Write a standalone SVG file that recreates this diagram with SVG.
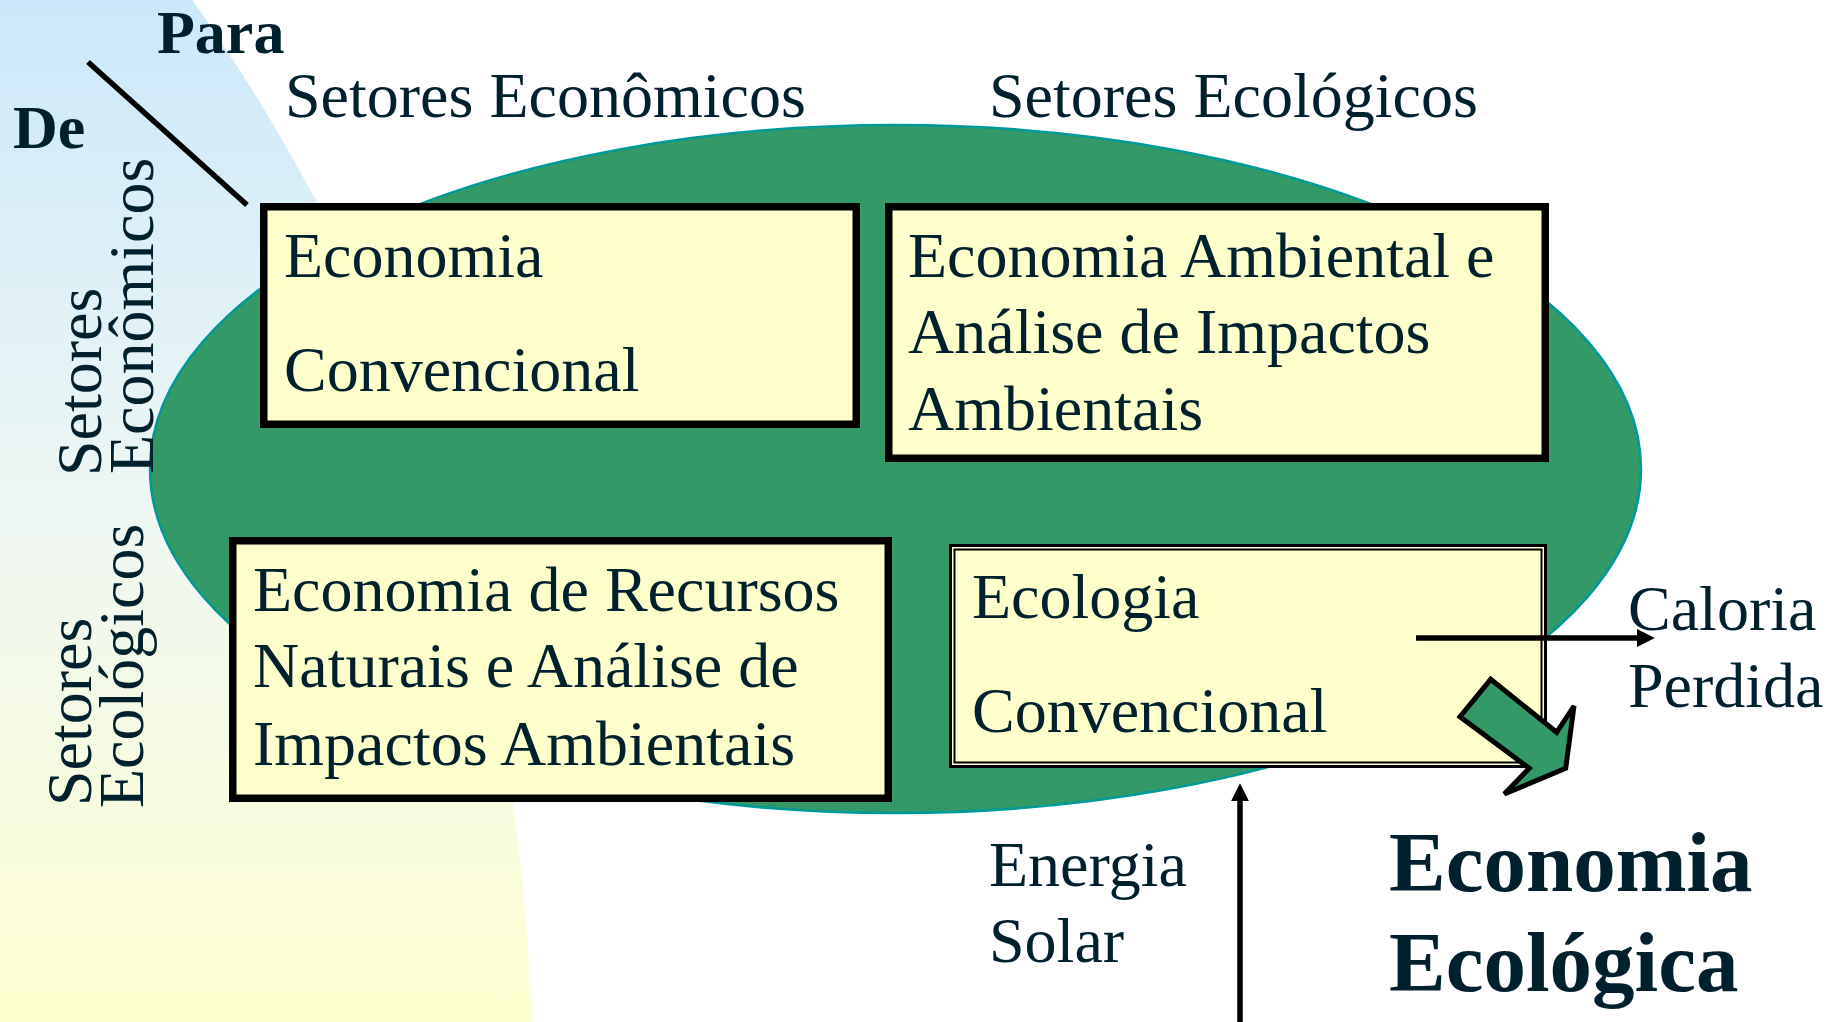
<svg xmlns="http://www.w3.org/2000/svg" width="1829" height="1022" viewBox="0 0 1829 1022">
  <defs>
    <linearGradient id="bgGrad" x1="0" y1="0" x2="0" y2="1022" gradientUnits="userSpaceOnUse">
      <stop offset="0" stop-color="#cbe9fc"/>
      <stop offset="0.5" stop-color="#eef7f3"/>
      <stop offset="1" stop-color="#ffffd0"/>
    </linearGradient>
    <marker id="ah" viewBox="0 0 10 10" refX="4" refY="5" markerWidth="18" markerHeight="18" markerUnits="userSpaceOnUse" orient="auto">
      <path d="M0,0 L10,5 L0,10 z" fill="#000"/>
    </marker>
    <style>
      .t { font-family: "Liberation Serif", "Times New Roman", serif; font-size: 64px; fill: #00202e; }
      .b { font-family: "Liberation Serif", "Times New Roman", serif; font-weight: bold; fill: #00202e; }
      .box { fill: #ffffcc; stroke: #000; stroke-width: 7.5; }
      .conn { fill: none; stroke: #000; stroke-width: 5.5; }
    </style>
  </defs>
  <rect width="1829" height="1022" fill="#ffffff"/>
  <circle id="background" cx="-1314" cy="1067" r="1846" fill="url(#bgGrad)"/>
  <ellipse id="ellipse" cx="895.5" cy="469" rx="745.5" ry="344" fill="#339966" stroke="#009999" stroke-width="2.5"/>

  <g id="header">
    <text class="b" x="157" y="53" font-size="62">Para</text>
    <text class="b" x="13" y="148" font-size="62">De</text>
    <line x1="88" y1="62" x2="247" y2="205" stroke="#000" stroke-width="5.5"/>
    <text class="t" x="285" y="117">Setores Econômicos</text>
    <text class="t" x="989" y="117">Setores Ecológicos</text>
    <text class="t" transform="translate(101,476) rotate(-90)">Setores</text>
    <text class="t" transform="translate(153,474) rotate(-90)">Econômicos</text>
    <text class="t" transform="translate(91,806) rotate(-90)">Setores</text>
    <text class="t" transform="translate(143,808) rotate(-90)">Ecológicos</text>
  </g>

  <g id="box-economia-convencional">
    <rect class="box" x="263.75" y="206.75" width="592.5" height="217.5"/>
    <text class="t" x="284" y="277">Economia</text>
    <text class="t" x="284" y="391">Convencional</text>
  </g>

  <g id="box-economia-ambiental">
    <rect class="box" x="888.75" y="206.75" width="656.5" height="251.5"/>
    <text class="t" x="908" y="277">Economia Ambiental e</text>
    <text class="t" x="908" y="353">Análise de Impactos</text>
    <text class="t" x="908" y="430">Ambientais</text>
  </g>

  <g id="box-recursos-naturais">
    <rect class="box" x="232.75" y="540.75" width="655.5" height="257.5"/>
    <text class="t" x="253" y="611">Economia de Recursos</text>
    <text class="t" x="253" y="687">Naturais e Análise de</text>
    <text class="t" x="253" y="765">Impactos Ambientais</text>
  </g>

  <g id="box-ecologia-convencional">
    <rect x="950.5" y="545.5" width="595" height="221" fill="#ffffcc" stroke="#000" stroke-width="3"/>
    <rect x="954.5" y="549.5" width="587" height="213" fill="none" stroke="#000" stroke-width="2"/>
    <text class="t" x="972" y="618">Ecologia</text>
    <text class="t" x="972" y="732">Convencional</text>
  </g>

  <g id="label-caloria">
    <text class="t" x="1628" y="630">Caloria</text>
    <text class="t" x="1628" y="707">Perdida</text>
  </g>

  <g id="label-energia">
    <text class="t" x="989" y="886">Energia</text>
    <text class="t" x="989" y="962">Solar</text>
  </g>

  <g id="label-economia-ecologica">
    <text class="b" x="1389" y="891" font-size="85">Economia</text>
    <text class="b" x="1389" y="991" font-size="85">Ecológica</text>
  </g>

  <g id="connectors">
    <path class="conn" d="M1416,638 L1644,638" marker-end="url(#ah)"/>
    <path class="conn" d="M1240,1030 L1240,794" marker-end="url(#ah)"/>
    <polygon points="1490.7,679.3 1556.7,732.3 1574,706 1565.7,768.3 1504.3,794 1529.3,768.3 1460,716.7" fill="#339966" stroke="#000" stroke-width="5" stroke-linejoin="miter"/>
  </g>
</svg>
